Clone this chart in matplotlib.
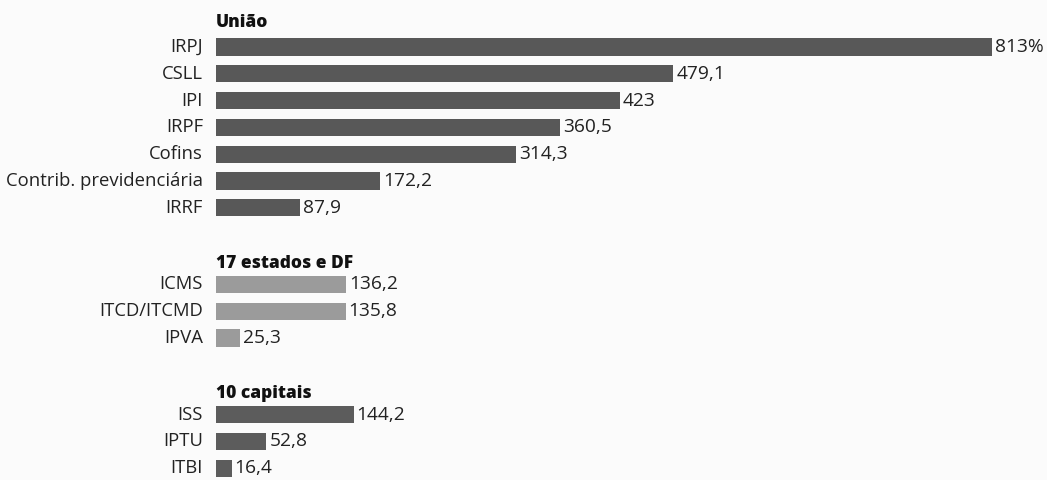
import numpy as np
import matplotlib
matplotlib.use("Agg")
import matplotlib.pyplot as plt

plt.rcParams['font.family'] = ['Open Sans', 'DejaVu Sans']

# data
uniao_names = ["IRPJ", "CSLL", "IPI", "IRPF", "Cofins", "Contrib. previdenciária", "IRRF"]
uniao_vals = [813, 479.1, 423, 360.5, 314.3, 172.2, 87.9]
estados_names = ["ICMS", "ITCD/ITCMD", "IPVA"]
estados_vals = [136.2, 135.8, 25.3]
capitais_names = ["ISS", "IPTU", "ITBI"]
capitais_vals = [144.2, 52.8, 16.4]

groups = [
    ("União", uniao_names, uniao_vals, "#585858"),
    ("17 estados e DF", estados_names, estados_vals, "#9b9b9b"),
    ("10 capitais", capitais_names, capitais_vals, "#5c5c5c"),
]


def fmt(v, first=False):
    s = ("%d" % v) if float(v).is_integer() else ("%.1f" % v).replace(".", ",")
    return s + "%" if first else s


W, H = 1047, 480
fig = plt.figure(figsize=(W / 100, H / 100), dpi=100)
fig.patch.set_facecolor("#fbfbfb")

x0 = 216
row = 26.8
ax = fig.add_axes([x0 / W, 0, (W - x0) / W, 1])
ax.set_facecolor("none")
ax.set_xlim(0, (W - x0) / 0.9545)
top = -47 / row
ax.set_ylim(top + H / row, top)
ax.axis("off")

gap = 2.86
start = 0.0
for gi, (title, names, vals, color) in enumerate(groups):
    pos = start + np.arange(len(names))
    ax.barh(pos, vals, height=0.64, color=color, edgecolor="none")
    ax.text(0, start - (0.93 if gi == 0 else 0.8), title, fontsize=12.5,
            fontweight="heavy", va="center", ha="left", color="#111111")
    for i, (p, n, v) in enumerate(zip(pos, names, vals)):
        ax.annotate(n, (0, p), xytext=(-13, 0), textcoords="offset pixels",
                    ha="right", va="center", fontsize=13.3, color="#222222")
        ax.annotate(fmt(v, gi == 0 and i == 0), (v, p), xytext=(3, 0),
                    textcoords="offset pixels", ha="left", va="center",
                    fontsize=13.8, color="#222222")
    start = pos[-1] + gap

fig.savefig("out.png", dpi=100, facecolor=fig.get_facecolor())
